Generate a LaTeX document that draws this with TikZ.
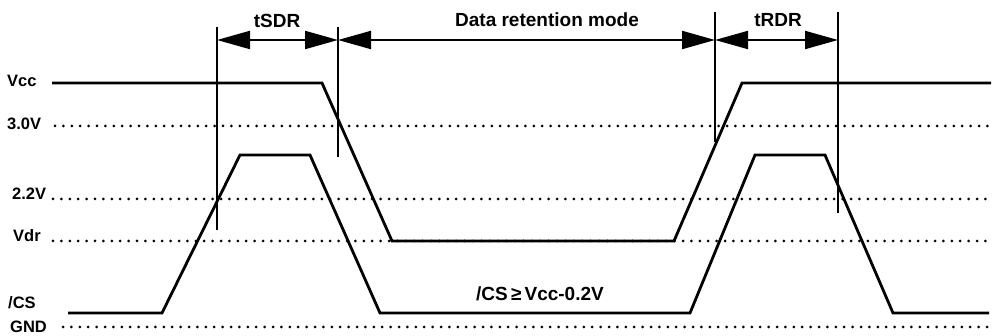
\documentclass[tikz,border=0pt]{standalone}
\usepackage{fontspec}
\setmainfont{Liberation Sans}
\usetikzlibrary{arrows.meta}
\tikzset{
    level/.style={
    line width=3pt,line cap=round,dash pattern=on 0pt off 8.4pt
    },
    wave/.style={
    line width=2.8pt,line join=miter
    },
    marker/.style={
    line width=2pt
    },
    span/.style={
    line width=2pt,{Triangle[length=33pt,width=18pt]}-{Triangle[length=33pt,width=18pt]}
    },
    lvl/.style={
    anchor=west,inner sep=0pt,font=\bfseries\fontsize{16.5}{18}\selectfont
    },
    ttl/.style={
    inner sep=0pt,font=\bfseries\fontsize{19}{21}\selectfont
    },
}
\begin{document}
\begin{tikzpicture}[x=1pt, y=-1pt]
  \useasboundingbox (0,0) rectangle (993,336);
  % level names
  \node[lvl] (vcc) at (7,81) {Vcc};
  \node[lvl] (v30) at (7,124) {3.0V};
  \node[lvl] (v22) at (12,194) {2.2V};
  \node[lvl] (vdr) at (13,236) {Vdr};
  \node[lvl] (cs)  at (8,303) {/CS};
  \node[lvl] (gnd) at (10,327) {GND};

  % dotted levels
  \draw[level] (55,126) -- (991,126);
  \draw[level] (53,199) -- (991,199);
  \draw[level] (53,241) -- (991,241);
  \draw[level] (63,327) -- (991,327);

  % supply and chip select
  \draw[wave] (52,83) -- (322,83) -- (392,241) -- (674,241) -- (742,83) -- (991,83);
  \draw[wave] (68,313) -- (162,313) -- (240,155) -- (310,155) -- (380,313)
     -- (690,313) -- (755,155) -- (825,155) -- (893,313) -- (989,313);

  % timing marks
  \coordinate (m1) at (217,40);
  \coordinate (m2) at (338,40);
  \coordinate (m3) at (715,40);
  \coordinate (m4) at (838,40);
  \draw[marker] (217,27) -- (217,230);
  \draw[marker] (338,27) -- (338,157);
  \draw[marker] (715,12) -- (715,142);
  \draw[marker] (838,12) -- (838,213);

  \draw[span] (m1) -- (m2);
  \draw[span] (m2) -- (m3);
  \draw[span] (m3) -- (m4);

  \node[ttl] (tsdr) at (277,21) {tSDR};
  \node[ttl] (drm)  at (547,20) {Data retention mode};
  \node[ttl] (trdr) at (778,20) {tRDR};
  \node[ttl] (cond) at (540,294) {/CS\,≥\,Vcc-0.2V};
\end{tikzpicture}
\end{document}
